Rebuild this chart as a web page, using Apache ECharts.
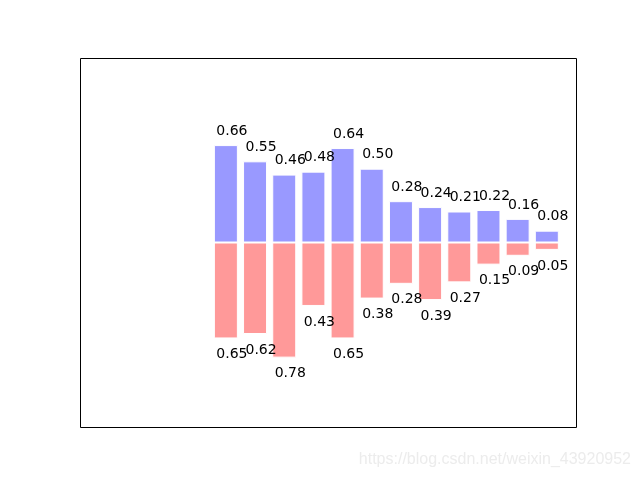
<!DOCTYPE html>
<html>
<head>
<meta charset="utf-8">
<script src="https://cdn.jsdelivr.net/npm/echarts@6/dist/echarts.min.js"></script>
<style>
  html, body { margin: 0; padding: 0; background: #fff; }
  #chart { width: 640px; height: 480px; }
</style>
</head>
<body>
<div id="chart"></div>
<script>
// bar positions 0..11
const positions = [0, 1, 2, 3, 4, 5, 6, 7, 8, 9, 10, 11]
const upperValues = [0.66, 0.55, 0.46, 0.48, 0.64, 0.50, 0.28, 0.24, 0.21, 0.22, 0.16, 0.08]
const lowerValues = [0.65, 0.62, 0.78, 0.43, 0.65, 0.38, 0.28, 0.39, 0.27, 0.15, 0.09, 0.05]

const chart = echarts.init(document.getElementById('chart'))

const labelFont = {
  fontFamily: 'DejaVu Sans',
  fontSize: 14,
  color: '#000'
}

chart.setOption({
  animation: false,
  grid: {
    left: 80,
    top: 58,
    right: 64,
    bottom: 53,
    show: false
  },
  xAxis: {
    type: 'value',
    min: -5,
    max: 12,
    show: false
  },
  yAxis: {
    type: 'value',
    min: -1.25,
    max: 1.25,
    show: false
  },
  series: [
    {
      type: 'bar',
      barWidth: 24,
      barGap: '-100%',
      itemStyle: { color: '#9999ff', borderColor: '#fff', borderWidth: 1 },
      label: {
        show: true,
        position: 'top',
        distance: 7,
        offset: [6, 0],
        formatter: p => p.value[1].toFixed(2),
        ...labelFont
      },
      data: positions.map((x, i) => [x, upperValues[i]])
    },
    {
      type: 'bar',
      barWidth: 24,
      barGap: '-100%',
      itemStyle: { color: '#ff9999', borderColor: '#fff', borderWidth: 1 },
      label: {
        show: true,
        position: 'bottom',
        distance: 9,
        offset: [6, 0],
        formatter: p => (-p.value[1]).toFixed(2),
        ...labelFont
      },
      data: positions.map((x, i) => [x, -lowerValues[i]])
    }
  ],
  graphic: [
    {
      // axes frame, drawn on half pixels so it stays crisp
      type: 'rect',
      shape: { x: 80.5, y: 58.5, width: 496, height: 369 },
      style: { fill: null, stroke: '#000', lineWidth: 1 },
      silent: true
    },
    {
      type: 'text',
      right: 9,
      top: 452,
      style: {
        text: 'https://blog.csdn.net/weixin_43920952',
        font: '16px "Liberation Sans"',
        fill: '#ececec'
      }
    }
  ]
})
</script>
</body>
</html>
